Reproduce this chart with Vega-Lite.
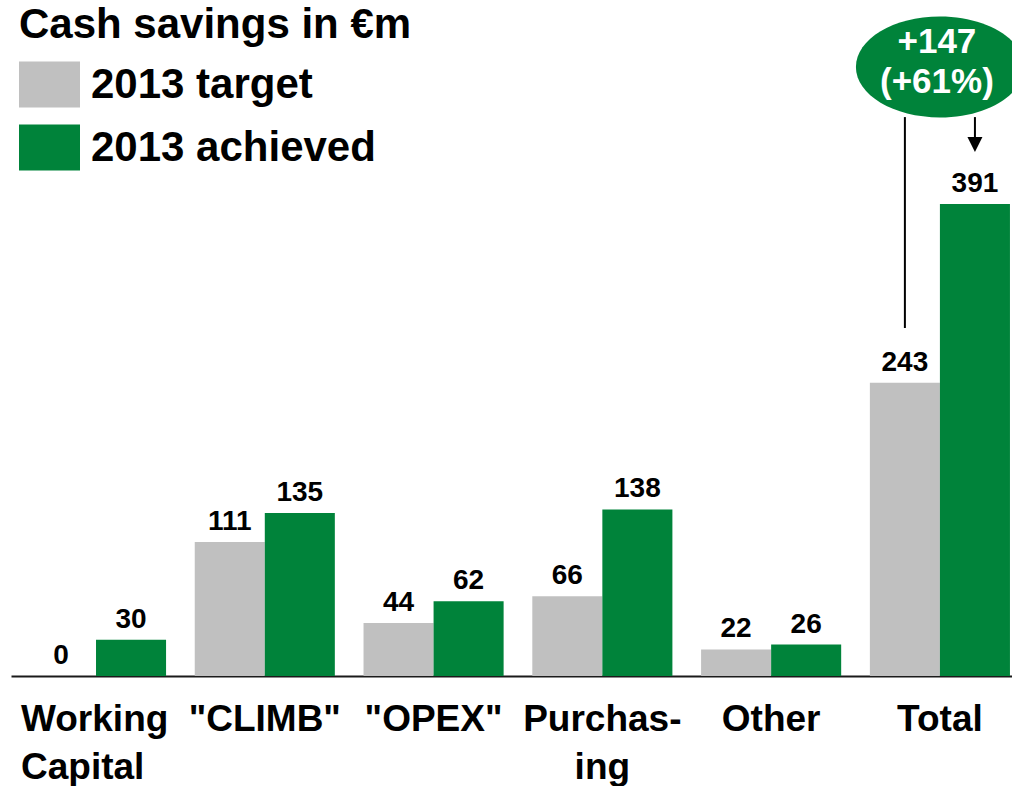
{
  "$schema": "https://vega.github.io/schema/vega-lite/v6.json",
  "width": 1001,
  "height": 676,
  "autosize": "none",
  "padding": {"left": 11, "top": 0, "right": 0, "bottom": 110},
  "background": "white",
  "config": {
    "view": {"stroke": null},
    "font": "Liberation Sans"
  },
  "datasets": {
    "bars": [
      {"category": "Working Capital", "series": "2013 target", "value": 0},
      {"category": "Working Capital", "series": "2013 achieved", "value": 30},
      {"category": "\"CLIMB\"", "series": "2013 target", "value": 111},
      {"category": "\"CLIMB\"", "series": "2013 achieved", "value": 135},
      {"category": "\"OPEX\"", "series": "2013 target", "value": 44},
      {"category": "\"OPEX\"", "series": "2013 achieved", "value": 62},
      {"category": "Purchasing", "series": "2013 target", "value": 66},
      {"category": "Purchasing", "series": "2013 achieved", "value": 138},
      {"category": "Other", "series": "2013 target", "value": 22},
      {"category": "Other", "series": "2013 achieved", "value": 26},
      {"category": "Total", "series": "2013 target", "value": 243},
      {"category": "Total", "series": "2013 achieved", "value": 391}
    ],
    "bubble": [{"category": "Total", "value": 504.5}],
    "bubbleText": [
      {"category": "Total", "value": 525.4, "label": "+147"},
      {"category": "Total", "value": 492.1, "label": "(+61%)"}
    ],
    "links": [
      {"category": "Total", "series": "2013 target", "from": 288.3, "to": 463},
      {"category": "Total", "series": "2013 achieved", "from": 444, "to": 463}
    ],
    "arrowHead": [{"category": "Total", "series": "2013 achieved", "value": 440.3}]
  },
  "encoding": {
    "x": {
      "field": "category",
      "type": "nominal",
      "scale": {
        "domain": ["Working Capital", "\"CLIMB\"", "\"OPEX\"", "Purchasing", "Other", "Total"],
        "paddingInner": 0.17,
        "paddingOuter": 0.0504,
        "align": 0.88
      },
      "axis": {
        "title": null,
        "orient": "bottom",
        "ticks": false,
        "labelAngle": 0,
        "labelFont": "Liberation Sans",
        "labelFontSize": 37,
        "labelFontWeight": "bold",
        "labelColor": "black",
        "labelPadding": 25,
        "labelLineHeight": 48,
        "labelBaseline": "top",
        "labelLimit": 0,
        "labelAlign": {"condition": {"test": "datum.value === 'Working Capital'", "value": "left"}, "value": "center"},
        "labelOffset": {"condition": {"test": "datum.value === 'Working Capital'", "value": -75}, "value": 0},
        "labelExpr": "datum.value === 'Working Capital' ? ['Working', 'Capital'] : datum.value === 'Purchasing' ? ['Purchas-', 'ing'] : datum.label",
        "domainColor": "#1a1a1a",
        "domainWidth": 2,
        "grid": false
      }
    }
  },
  "layer": [
    {
      "data": {"name": "bars"},
      "mark": {"type": "bar"},
      "encoding": {
        "xOffset": {"field": "series", "type": "nominal", "scale": {"domain": ["2013 target", "2013 achieved"]}},
        "y": {"field": "value", "type": "quantitative", "scale": {"domain": [0, 560], "nice": false}, "axis": null},
        "color": {
          "field": "series",
          "type": "nominal",
          "scale": {"domain": ["2013 target", "2013 achieved"], "range": ["#c0c0c0", "#00833a"]},
          "legend": {
            "orient": "none",
            "legendX": 8,
            "legendY": 5,
            "padding": 0,
            "title": "Cash savings in €m",
            "titleFont": "Liberation Sans",
            "titleFontSize": 42,
            "titleFontWeight": "bold",
            "titleColor": "black",
            "titlePadding": 7,
            "titleLimit": 0,
            "labelFont": "Liberation Sans",
            "labelFontSize": 42,
            "labelFontWeight": "bold",
            "labelColor": "black",
            "labelOffset": 11,
            "labelLimit": 0,
            "symbolType": "M-1,-0.754H1V0.754H-1Z",
            "symbolSize": 3721,
            "symbolStrokeWidth": 0,
            "symbolOpacity": 1,
            "rowPadding": 9
          }
        }
      }
    },
    {
      "data": {"name": "bars"},
      "mark": {"type": "text", "font": "Liberation Sans", "fontSize": 28, "fontWeight": "bold", "color": "black", "baseline": "alphabetic", "dy": -12},
      "encoding": {
        "xOffset": {"field": "series", "type": "nominal"},
        "y": {"field": "value", "type": "quantitative"},
        "text": {"field": "value", "type": "quantitative"}
      }
    },
    {
      "data": {"name": "links"},
      "mark": {"type": "rule", "color": "black", "strokeWidth": 2},
      "encoding": {
        "xOffset": {"field": "series", "type": "nominal"},
        "y": {"field": "from", "type": "quantitative"},
        "y2": {"field": "to"}
      }
    },
    {
      "data": {"name": "arrowHead"},
      "mark": {"type": "point", "shape": "M-1,-1L1,-1L0,1Z", "filled": true, "color": "black", "opacity": 1, "size": 225},
      "encoding": {
        "xOffset": {"field": "series", "type": "nominal"},
        "y": {"field": "value", "type": "quantitative"}
      }
    },
    {
      "data": {"name": "bubble"},
      "mark": {"type": "point", "shape": "M-1,0A1,0.6 0 1,0 1,0A1,0.6 0 1,0 -1,0Z", "filled": true, "color": "#00833a", "opacity": 1, "size": 28224},
      "encoding": {
        "y": {"field": "value", "type": "quantitative"}
      }
    },
    {
      "data": {"name": "bubbleText"},
      "mark": {"type": "text", "font": "Liberation Sans", "fontSize": 35, "fontWeight": "bold", "color": "white", "baseline": "middle", "dx": -3},
      "encoding": {
        "y": {"field": "value", "type": "quantitative"},
        "text": {"field": "label", "type": "nominal"}
      }
    }
  ]
}
